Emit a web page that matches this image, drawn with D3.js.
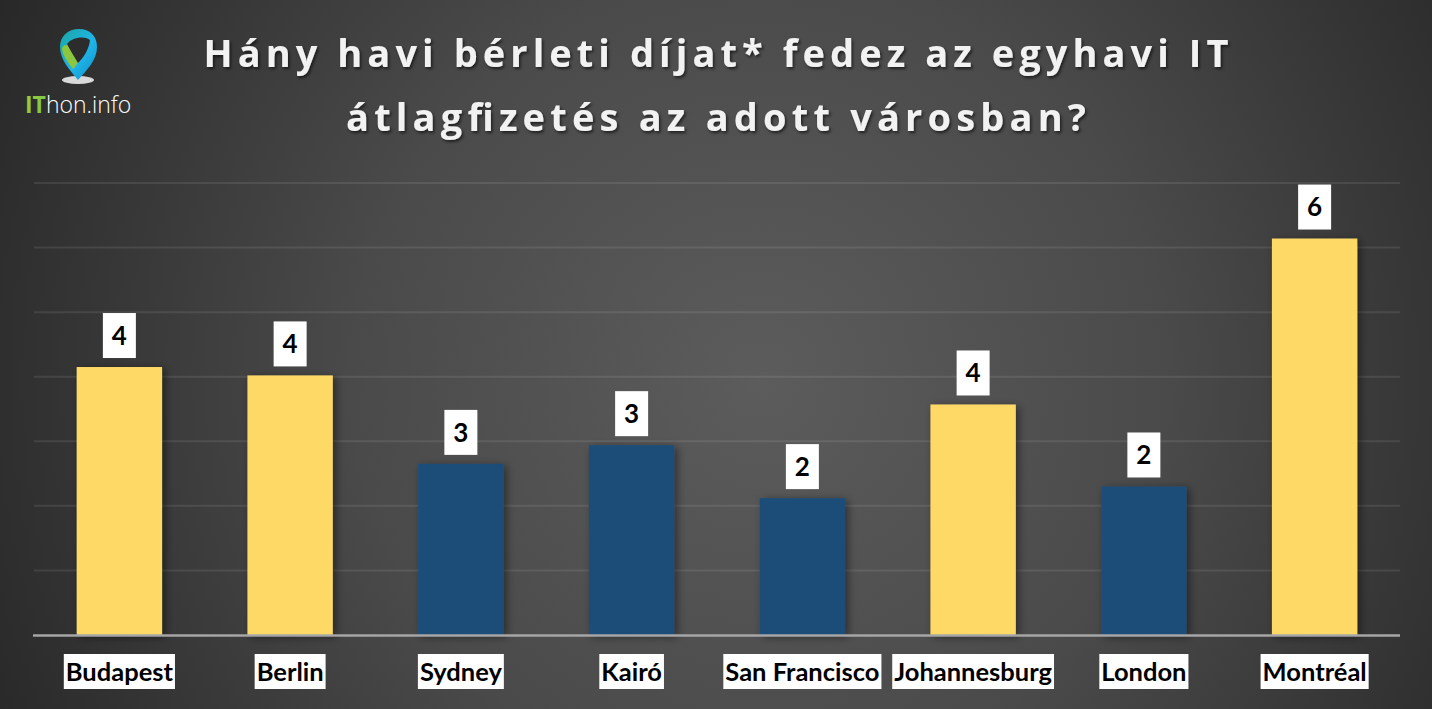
<!DOCTYPE html>
<html>
<head>
<meta charset="utf-8">
<script src="https://cdn.jsdelivr.net/npm/d3@7"></script>
<style>
  html, body { margin: 0; padding: 0; background: #333; }
  svg { display: block; }
</style>
</head>
<body>
<div id="chart"></div>
<script>
// data
const cities = ["Budapest", "Berlin", "Sydney", "Kairó", "San Francisco", "Johannesburg", "London", "Montréal"];
const ratios = [4.15, 4.02, 2.65, 2.94, 2.12, 3.57, 2.30, 6.14];
const labels = ["4", "4", "3", "3", "2", "4", "2", "6"];
const highlight = [true, true, false, false, false, true, false, true];
const yTicks = [0, 1, 2, 3, 4, 5, 6, 7];
const titleLines = ["Hány havi bérleti díjat* fedez az egyhavi IT", "átlagfizetés az adott városban?"];
const titleWidths = [1025, 740];

const width = 1432, height = 709;
const margin = { top: 183, right: 32, bottom: 74, left: 34 };

const yellow = "#ffd966", blue = "#1f4e79";
const labelFont = "Lato, 'Open Sans', sans-serif";

const svg = d3.select("#chart").append("svg")
  .attr("width", width)
  .attr("height", height);

const defs = svg.append("defs");

// background
const bg = defs.append("radialGradient")
  .attr("id", "bg")
  .attr("gradientUnits", "userSpaceOnUse")
  .attr("cx", 760).attr("cy", 380).attr("r", 900);
bg.append("stop").attr("offset", "0%").attr("stop-color", "#5c5c5c");
bg.append("stop").attr("offset", "45%").attr("stop-color", "#4a4a4a");
bg.append("stop").attr("offset", "100%").attr("stop-color", "#242424");

svg.append("rect")
  .attr("width", width)
  .attr("height", height)
  .attr("fill", "url(#bg)");

// bar shadow
const shadow = defs.append("filter")
  .attr("id", "shadow")
  .attr("x", "-20%").attr("y", "-20%")
  .attr("width", "150%").attr("height", "150%");
shadow.append("feDropShadow")
  .attr("dx", 3).attr("dy", 2)
  .attr("stdDeviation", 4)
  .attr("flood-color", "#000")
  .attr("flood-opacity", 0.45);

const textShadow = defs.append("filter").attr("id", "tshadow");
textShadow.append("feDropShadow")
  .attr("dx", 1.5).attr("dy", 2)
  .attr("stdDeviation", 1.5)
  .attr("flood-color", "#000")
  .attr("flood-opacity", 0.6);

// scales
const x = d3.scaleBand()
  .domain(cities)
  .range([margin.left, width - margin.right])
  .paddingInner(0.5)
  .paddingOuter(0.25);

const y = d3.scaleLinear()
  .domain([0, 7])
  .range([height - margin.bottom, margin.top]);

// gridlines
svg.append("g")
  .selectAll("line")
  .data(yTicks.slice(1))
  .join("line")
  .attr("x1", margin.left)
  .attr("x2", width - margin.right)
  .attr("y1", d => y(d))
  .attr("y2", d => y(d))
  .attr("stroke", "#ffffff")
  .attr("stroke-opacity", 0.09)
  .attr("stroke-width", 2);

// bars
svg.append("g")
  .selectAll("rect")
  .data(cities)
  .join("rect")
  .attr("x", d => x(d))
  .attr("y", (d, i) => y(ratios[i]))
  .attr("width", x.bandwidth())
  .attr("height", (d, i) => y(0) - y(ratios[i]))
  .attr("fill", (d, i) => highlight[i] ? yellow : blue)
  .attr("filter", "url(#shadow)");

// baseline
svg.append("line")
  .attr("x1", margin.left - 1)
  .attr("x2", width - margin.right)
  .attr("y1", y(0) + 0.5)
  .attr("y2", y(0) + 0.5)
  .attr("stroke", "#a6a6a6")
  .attr("stroke-width", 2.5);

// value labels in white boxes
const vals = svg.append("g")
  .selectAll("g")
  .data(cities)
  .join("g")
  .attr("transform", (d, i) => `translate(${x(d) + x.bandwidth() / 2},${y(ratios[i]) - 9})`);

vals.append("rect")
  .attr("x", -16.5)
  .attr("y", -45)
  .attr("width", 33)
  .attr("height", 45)
  .attr("fill", "#fff");

vals.append("text")
  .attr("y", -22.5)
  .attr("dy", "0.36em")
  .attr("text-anchor", "middle")
  .attr("font-family", labelFont)
  .attr("font-weight", "bold")
  .attr("font-size", 26)
  .attr("fill", "#000")
  .text((d, i) => labels[i]);

// category labels in white boxes
const cats = svg.append("g")
  .selectAll("g")
  .data(cities)
  .join("g")
  .attr("transform", d => `translate(${x(d) + x.bandwidth() / 2},671.5)`);

const catText = cats.append("text")
  .attr("dy", "0.36em")
  .attr("text-anchor", "middle")
  .attr("font-family", labelFont)
  .attr("font-weight", "bold")
  .attr("font-size", 25.5)
  .attr("fill", "#000")
  .text(d => d);

catText.each(function () {
  const w = this.getComputedTextLength();
  d3.select(this.parentNode).insert("rect", "text")
    .attr("x", -w / 2 - 2)
    .attr("y", -17.5)
    .attr("width", w + 4)
    .attr("height", 35)
    .attr("fill", "#fff");
});

// title
svg.append("g")
  .attr("filter", "url(#tshadow)")
  .selectAll("text")
  .data(titleLines)
  .join("text")
  .attr("x", 716)
  .attr("y", (d, i) => 67 + i * 64)
  .attr("text-anchor", "middle")
  .attr("font-family", "'Open Sans', sans-serif")
  .attr("font-weight", "bold")
  .attr("font-size", 38)
  .attr("textLength", (d, i) => titleWidths[i])
  .attr("lengthAdjust", "spacing")
  .attr("fill", "#f2f2f2")
  .text(d => d);

// logo
const logo = svg.append("g");

const pinGrad = defs.append("linearGradient")
  .attr("id", "pinGrad")
  .attr("x1", 0).attr("y1", 0).attr("x2", 1).attr("y2", 1);
pinGrad.append("stop").attr("offset", "0%").attr("stop-color", "#1aa6a0");
pinGrad.append("stop").attr("offset", "55%").attr("stop-color", "#1fb5e8");
pinGrad.append("stop").attr("offset", "100%").attr("stop-color", "#0f8fc8");

const itGrad = defs.append("linearGradient")
  .attr("id", "itGrad")
  .attr("x1", 0).attr("y1", 0).attr("x2", 1).attr("y2", 0);
itGrad.append("stop").attr("offset", "0%").attr("stop-color", "#9acd32");
itGrad.append("stop").attr("offset", "100%").attr("stop-color", "#17a9b0");

logo.append("ellipse")
  .attr("cx", 78).attr("cy", 80)
  .attr("rx", 16).attr("ry", 4)
  .attr("fill", "#d9d9d9");

// pin outline
logo.append("path")
  .attr("d", "M78,80 C70,70 60,60 60,47 C60,36 68,29 79,29 C90,29 97,36 97,47 C97,60 87,70 78,80 Z")
  .attr("fill", "url(#pinGrad)");
// green ribbon on the left
logo.append("path")
  .attr("d", "M62,48 C64,44 68,44 71,48 L78,62 C76,66 74,68 73,69 C68,62 62,55 62,48 Z")
  .attr("fill", "#8cc63f");
// dark centre
logo.append("path")
  .attr("d", "M67,44 C71,38 84,35 90,40 C89,50 83,58 78,63 C74,56 70,50 67,44 Z")
  .attr("fill", "#2c2c2c");

logo.append("text")
  .attr("x", 25)
  .attr("y", 113)
  .attr("font-family", "'Open Sans', sans-serif")
  .attr("font-size", 23)
  .attr("fill", "#ffffff")
  .call(t => {
    t.append("tspan").attr("font-weight", "bold").attr("fill", "url(#itGrad)").text("IT");
    t.append("tspan").attr("font-weight", 300).text("hon.info");
  });
</script>
</body>
</html>
